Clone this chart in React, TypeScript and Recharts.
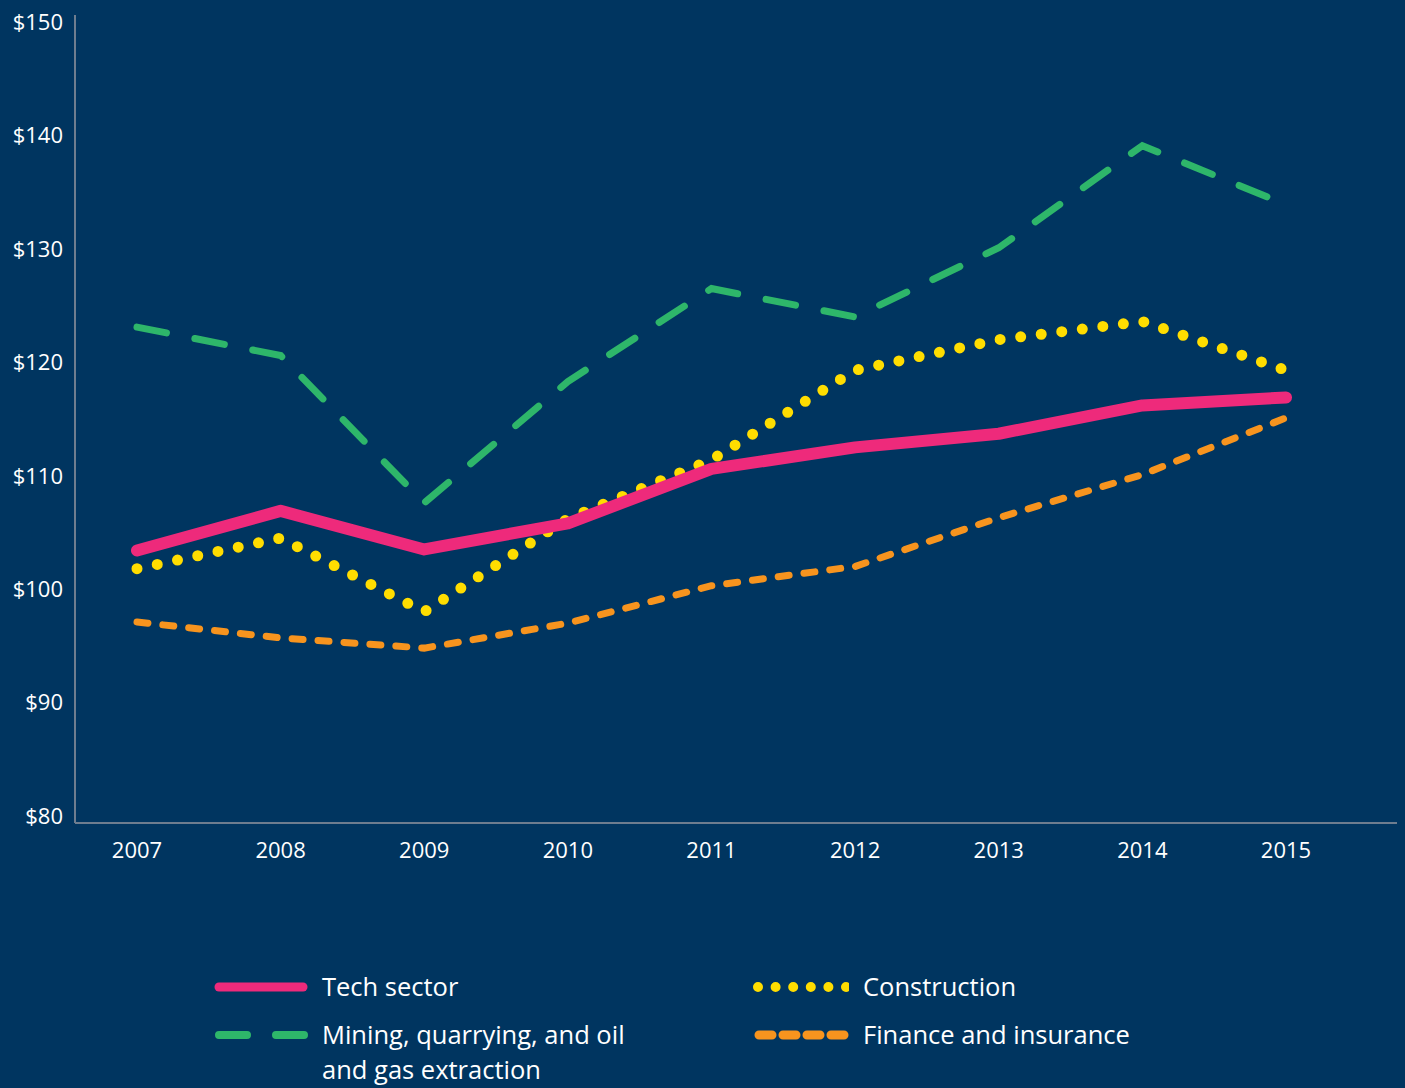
import { LineChart, Line, XAxis, YAxis } from "recharts";

const years = ["2007", "2008", "2009", "2010", "2011", "2012", "2013", "2014", "2015"];
const tech = [103.4, 106.9, 103.5, 105.8, 110.6, 112.5, 113.7, 116.2, 116.9];
const mining = [123.1, 120.6, 107.6, 118.3, 126.5, 124.0, 130.1, 139.1, 133.9];
const construction = [101.8, 104.5, 98.0, 106.2, 111.4, 119.3, 122.0, 123.6, 119.3];
const finance = [97.1, 95.7, 94.8, 97.0, 100.3, 102.0, 106.3, 110.1, 115.1];
const yTicks = [80, 90, 100, 110, 120, 130, 140, 150];

const data = years.map((y, i) => ({
  year: y,
  tech: tech[i],
  mining: mining[i],
  construction: construction[i],
  finance: finance[i],
}));

const BG = "#003560";
const PINK = "#EE2A7B";
const GREEN = "#2EB66A";
const YELLOW = "#FFDD00";
const ORANGE = "#F7941E";
const AXIS = "#6E7D8F";
const FONT = "'Open Sans', Lato, sans-serif";

const tickStyle = {
  fill: "#ffffff",
  fontSize: 22,
  fontFamily: FONT,
} as any;

// legend rows: line spacing kept just above the font box so lines don't collide
const LH = 35;

function LegendItem({ x, y, icon, lines }: { x: number; y: number; icon: React.ReactNode; lines: string[] }) {
  return (
    <div style={{ position: "absolute", left: x, top: y, display: "flex", alignItems: "flex-start" }}>
      <svg width={100} height={20} style={{ marginTop: (LH - 20) / 2 }}>{icon}</svg>
      <div style={{ marginLeft: 14, color: "#fff", fontFamily: FONT, fontSize: 25.5, lineHeight: `${LH}px` }}>
        {lines.map((l) => (
          <div key={l} style={{ height: LH }}>{l}</div>
        ))}
      </div>
    </div>
  );
}

export default function App() {
  return (
    <div style={{ position: "absolute", left: 0, top: 0, width: 1405, height: 1088, background: BG, overflow: "hidden" }}>
      <LineChart width={1405} height={900} data={data} margin={{ top: 15, right: 8, left: 0, bottom: 0 }}>
        <XAxis
          dataKey="year"
          padding={{ left: 62, right: 111 }}
          height={77}
          stroke={AXIS}
          strokeWidth={2}
          tickLine={false}
          tickMargin={13}
          tick={tickStyle}
        />
        <YAxis
          type="number"
          domain={[79.38, 150.62]}
          ticks={yTicks}
          width={75}
          stroke={AXIS}
          strokeWidth={2}
          tickLine={false}
          tickMargin={6}
          tick={tickStyle}
          tickFormatter={(v: number) => `$${v}`}
        />
        <Line dataKey="finance" stroke={ORANGE} strokeWidth={7} strokeDasharray="11 15" strokeLinecap="round" dot={false} isAnimationActive={false} />
        <Line dataKey="construction" stroke={YELLOW} strokeWidth={11} strokeDasharray="0 20.7" strokeLinecap="round" dot={false} isAnimationActive={false} />
        <Line dataKey="mining" stroke={GREEN} strokeWidth={7} strokeDasharray="30 29" strokeLinecap="round" dot={false} isAnimationActive={false} />
        <Line dataKey="tech" stroke={PINK} strokeWidth={12} strokeLinecap="round" strokeLinejoin="round" dot={false} isAnimationActive={false} />
      </LineChart>

      <LegendItem
        x={208}
        y={969}
        lines={["Tech sector"]}
        icon={<line x1={11} x2={95} y1={10} y2={10} stroke={PINK} strokeWidth={9} strokeLinecap="round" />}
      />
      <LegendItem
        x={208}
        y={1017}
        lines={["Mining, quarrying, and oil", "and gas extraction"]}
        icon={<line x1={11} x2={99} y1={10} y2={10} stroke={GREEN} strokeWidth={8} strokeDasharray="28 29" strokeLinecap="round" />}
      />
      <LegendItem
        x={749}
        y={969}
        lines={["Construction"]}
        icon={<line x1={9} x2={99} y1={10} y2={10} stroke={YELLOW} strokeWidth={10} strokeDasharray="0 17.6" strokeLinecap="round" />}
      />
      <LegendItem
        x={749}
        y={1017}
        lines={["Finance and insurance"]}
        icon={<line x1={10} x2={99} y1={10} y2={10} stroke={ORANGE} strokeWidth={9} strokeDasharray="13 11" strokeLinecap="round" />}
      />
    </div>
  );
}
